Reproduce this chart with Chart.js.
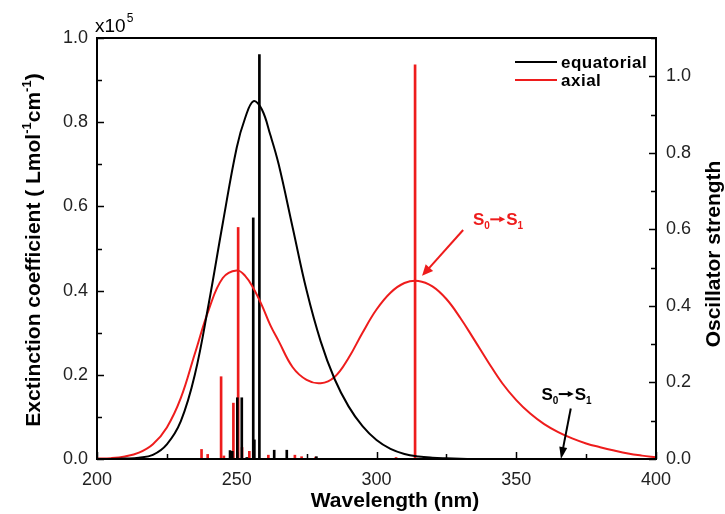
<!DOCTYPE html>
<html>
<head>
<meta charset="utf-8">
<script src="https://cdn.jsdelivr.net/npm/chart.js@4.4.1/dist/chart.umd.min.js"></script>
<style>
    html, body { margin: 0; padding: 0; background: #fff; }
</style>
</head>
<body>
<canvas id="spectrum-chart" width="725" height="514"></canvas>
<script>
// simulated absorption curves (x10^5 L mol-1 cm-1)
let wavelengths = [200, 205, 210, 215, 220, 225, 230, 235, 240, 245, 250, 253, 256, 259, 262, 265, 270, 275, 280, 285, 290, 295, 300, 305, 310, 315, 320, 325, 330, 335, 340, 345, 350, 355, 360, 365, 370, 375, 380, 385, 390, 395, 400];
let equatorialCurve = [0, 0, 0.001, 0.003, 0.01, 0.035, 0.09, 0.2, 0.37, 0.56, 0.74, 0.81, 0.85, 0.83, 0.77, 0.7, 0.55, 0.4, 0.28, 0.19, 0.125, 0.078, 0.045, 0.024, 0.012, 0.006, 0.003, 0.0015, 0.0005, 0, 0, 0, 0, 0, 0, 0, 0, 0, 0, 0, 0, 0, 0];
let axialCurve = [0.001, 0.002, 0.006, 0.015, 0.035, 0.075, 0.145, 0.25, 0.355, 0.43, 0.448, 0.435, 0.405, 0.365, 0.318, 0.28, 0.218, 0.188, 0.18, 0.195, 0.24, 0.3, 0.355, 0.395, 0.418, 0.423, 0.41, 0.38, 0.335, 0.283, 0.23, 0.18, 0.14, 0.108, 0.083, 0.064, 0.049, 0.037, 0.028, 0.02, 0.013, 0.008, 0.004];

// oscillator strengths
let equatorialStickNm = [247.6, 248.4, 250.2, 251.8, 253.6, 255.9, 256.3, 258.1, 263.4, 267.9, 278.5];
let equatorialStickF = [0.022, 0.02, 0.16, 0.16, 0.004, 0.63, 0.05, 1.057, 0.023, 0.023, 0.006];
let axialStickNm = [237.4, 239.6, 244.4, 245.4, 248.2, 248.8, 250.5, 251.9, 254.5, 261.3, 270.8, 273.2, 278.2, 307.0, 313.8];
let axialStickF = [0.025, 0.012, 0.215, 0.008, 0.015, 0.146, 0.605, 0.03, 0.02, 0.01, 0.01, 0.006, 0.005, 0.004, 1.03];

let seriesNames = ["equatorial", "axial"];
let seriesColors = ["#000000", "#ee1c1c"];

const fontFamily = "Arial, 'Liberation Sans', sans-serif";

function toPoints(xs, ys) {
    return xs.map((x, i) => ({ x: x, y: ys[i] }));
}

function tenthLabel(value) {
    let tenths = Math.round(value * 10);
    return tenths % 2 === 0 ? (tenths / 10).toFixed(1) : "";
}

function drawArrow(ctx, x1, y1, x2, y2, color, headLength, headWidth) {
    let angle = Math.atan2(y2 - y1, x2 - x1);
    ctx.strokeStyle = color;
    ctx.fillStyle = color;
    ctx.lineWidth = 2;
    ctx.beginPath();
    ctx.moveTo(x1, y1);
    ctx.lineTo(x2 - headLength * 0.8 * Math.cos(angle), y2 - headLength * 0.8 * Math.sin(angle));
    ctx.stroke();
    ctx.beginPath();
    ctx.moveTo(x2, y2);
    ctx.lineTo(x2 - headLength * Math.cos(angle) + headWidth * Math.sin(angle), y2 - headLength * Math.sin(angle) - headWidth * Math.cos(angle));
    ctx.lineTo(x2 - headLength * Math.cos(angle) - headWidth * Math.sin(angle), y2 - headLength * Math.sin(angle) + headWidth * Math.cos(angle));
    ctx.closePath();
    ctx.fill();
}

// "S0 -> S1" label, x/y = baseline start
function drawTransition(ctx, x, y, color) {
    ctx.fillStyle = color;
    ctx.textAlign = "left";
    ctx.textBaseline = "alphabetic";
    ctx.font = "bold 17px " + fontFamily;
    ctx.fillText("S", x, y);
    let sWidth = ctx.measureText("S").width;
    ctx.font = "bold 10px " + fontFamily;
    ctx.fillText("0", x + sWidth, y + 4);
    let arrowStart = x + sWidth + 6;
    drawArrow(ctx, arrowStart, y - 6, arrowStart + 15, y - 6, color, 6, 3);
    ctx.fillStyle = color;
    ctx.font = "bold 17px " + fontFamily;
    ctx.fillText("S", arrowStart + 16, y);
    ctx.font = "bold 10px " + fontFamily;
    ctx.fillText("1", arrowStart + 16 + sWidth, y + 4);
}

const decorations = {
    id: "decorations",
    afterDraw(chart) {
        let { ctx, chartArea: area, scales } = chart;
        ctx.save();

        // frame
        ctx.strokeStyle = "#000";
        ctx.lineWidth = 2;
        ctx.strokeRect(area.left, area.top, area.right - area.left, area.bottom - area.top);

        // inward ticks
        ctx.lineWidth = 1.5;
        ctx.beginPath();
        scales.x.ticks.forEach(tick => {
            let px = Math.round(scales.x.getPixelForValue(tick.value)) + 0.5;
            let len = tick.value % 50 === 0 ? 7 : 5;
            ctx.moveTo(px, area.bottom);
            ctx.lineTo(px, area.bottom - len);
        });
        scales.y.ticks.forEach(tick => {
            let py = Math.round(scales.y.getPixelForValue(tick.value)) + 0.5;
            let len = Math.round(tick.value * 10) % 2 === 0 ? 7 : 5;
            ctx.moveTo(area.left, py);
            ctx.lineTo(area.left + len, py);
        });
        scales.y1.ticks.forEach(tick => {
            let py = Math.round(scales.y1.getPixelForValue(tick.value)) + 0.5;
            let len = Math.round(tick.value * 10) % 2 === 0 ? 7 : 5;
            ctx.moveTo(area.right, py);
            ctx.lineTo(area.right - len, py);
        });
        ctx.stroke();

        // legend
        ctx.textAlign = "left";
        ctx.textBaseline = "middle";
        ctx.font = "bold 17px " + fontFamily;
        ctx.letterSpacing = "0.5px";
        seriesNames.forEach((name, i) => {
            let ly = area.top + 24 + i * 18;
            ctx.strokeStyle = seriesColors[i];
            ctx.lineWidth = 2;
            ctx.beginPath();
            ctx.moveTo(area.right - 141, ly);
            ctx.lineTo(area.right - 99, ly);
            ctx.stroke();
            ctx.fillStyle = "#000";
            ctx.fillText(name, area.right - 95, ly + 1);
        });
        ctx.letterSpacing = "0px";

        // axis titles
        ctx.fillStyle = "#000";
        ctx.textBaseline = "alphabetic";
        ctx.textAlign = "center";
        ctx.font = "bold 21px " + fontFamily;
        ctx.fillText("Wavelength (nm)", 395, 507);

        ctx.save();
        ctx.translate(720, 254);
        ctx.rotate(-Math.PI / 2);
        ctx.fillText("Oscillator strength", 0, 0);
        ctx.restore();

        let leftParts = [
            ["Exctinction coefficient ( Lmol", false],
            ["-1", true],
            ["cm", false],
            ["-1", true],
            [")", false]
        ];
        let mainFont = "bold 21px " + fontFamily;
        let supFont = "bold 13px " + fontFamily;
        let totalWidth = 0;
        leftParts.forEach(([text, sup]) => {
            ctx.font = sup ? supFont : mainFont;
            totalWidth += ctx.measureText(text).width;
        });
        ctx.save();
        ctx.translate(40, 250);
        ctx.rotate(-Math.PI / 2);
        ctx.textAlign = "left";
        let cursor = -totalWidth / 2;
        leftParts.forEach(([text, sup]) => {
            ctx.font = sup ? supFont : mainFont;
            ctx.fillText(text, cursor, sup ? -9 : 0);
            cursor += ctx.measureText(text).width;
        });
        ctx.restore();

        // x10^5 multiplier
        ctx.textAlign = "left";
        ctx.font = "19px " + fontFamily;
        ctx.fillText("x10", 95, 32);
        let mWidth = ctx.measureText("x10").width;
        ctx.font = "12px " + fontFamily;
        ctx.fillText("5", 96 + mWidth, 22);

        // transition annotations
        let red = seriesColors[1];
        drawArrow(ctx, scales.x.getPixelForValue(331), scales.y.getPixelForValue(0.544),
            scales.x.getPixelForValue(316.3), scales.y.getPixelForValue(0.435), red, 11, 5);
        drawTransition(ctx, scales.x.getPixelForValue(334.5), scales.y.getPixelForValue(0.555), red);

        drawArrow(ctx, scales.x.getPixelForValue(369.5), scales.y.getPixelForValue(0.12),
            scales.x.getPixelForValue(366), scales.y.getPixelForValue(0.0), "#000", 12, 4);
        drawTransition(ctx, scales.x.getPixelForValue(359), scales.y.getPixelForValue(0.14), "#000");

        ctx.restore();
    }
};

let chartCanvas = document.getElementById("spectrum-chart").getContext("2d");

let tickFont = { family: fontFamily, size: 18 };

new Chart(chartCanvas, {
    type: "line",
    data: {
        datasets: [
            {
                type: "line",
                label: seriesNames[0],
                data: toPoints(wavelengths, equatorialCurve),
                borderColor: seriesColors[0],
                borderWidth: 2,
                pointRadius: 0,
                tension: 0.4,
                yAxisID: "y"
            },
            {
                type: "line",
                label: seriesNames[1],
                data: toPoints(wavelengths, axialCurve),
                borderColor: seriesColors[1],
                borderWidth: 2,
                pointRadius: 0,
                tension: 0.4,
                yAxisID: "y"
            },
            {
                type: "bar",
                label: seriesNames[0] + " f",
                data: toPoints(equatorialStickNm, equatorialStickF),
                backgroundColor: seriesColors[0],
                barThickness: 2,
                grouped: false,
                yAxisID: "y1"
            },
            {
                type: "bar",
                label: seriesNames[1] + " f",
                data: toPoints(axialStickNm, axialStickF),
                backgroundColor: seriesColors[1],
                barThickness: 2,
                grouped: false,
                yAxisID: "y1"
            }
        ]
    },
    options: {
        responsive: false,
        animation: false,
        devicePixelRatio: 1,
        layout: {
            padding: { top: 38, left: 0, right: 0, bottom: 0 }
        },
        plugins: {
            legend: { display: false },
            tooltip: { enabled: false }
        },
        scales: {
            x: {
                type: "linear",
                min: 200,
                max: 400,
                offset: false,
                grid: { display: false, drawTicks: false },
                border: { display: false },
                ticks: {
                    stepSize: 25,
                    autoSkip: false,
                    maxRotation: 0,
                    padding: 10,
                    color: "#222",
                    font: tickFont,
                    callback: value => value % 50 === 0 ? value : ""
                },
                afterFit: scale => { scale.height = 55; }
            },
            y: {
                position: "left",
                min: 0,
                max: 1.0,
                grid: { display: false, drawTicks: false },
                border: { display: false },
                ticks: {
                    stepSize: 0.1,
                    autoSkip: false,
                    padding: 9,
                    color: "#222",
                    font: tickFont,
                    callback: value => tenthLabel(value)
                },
                afterFit: scale => { scale.width = 97; }
            },
            y1: {
                position: "right",
                min: 0,
                max: 1.1,
                grid: { display: false, drawTicks: false },
                border: { display: false },
                ticks: {
                    stepSize: 0.1,
                    autoSkip: false,
                    padding: 10,
                    color: "#222",
                    font: tickFont,
                    callback: value => tenthLabel(value)
                },
                afterFit: scale => { scale.width = 69; }
            }
        }
    },
    plugins: [decorations]
});
</script>
</body>
</html>
